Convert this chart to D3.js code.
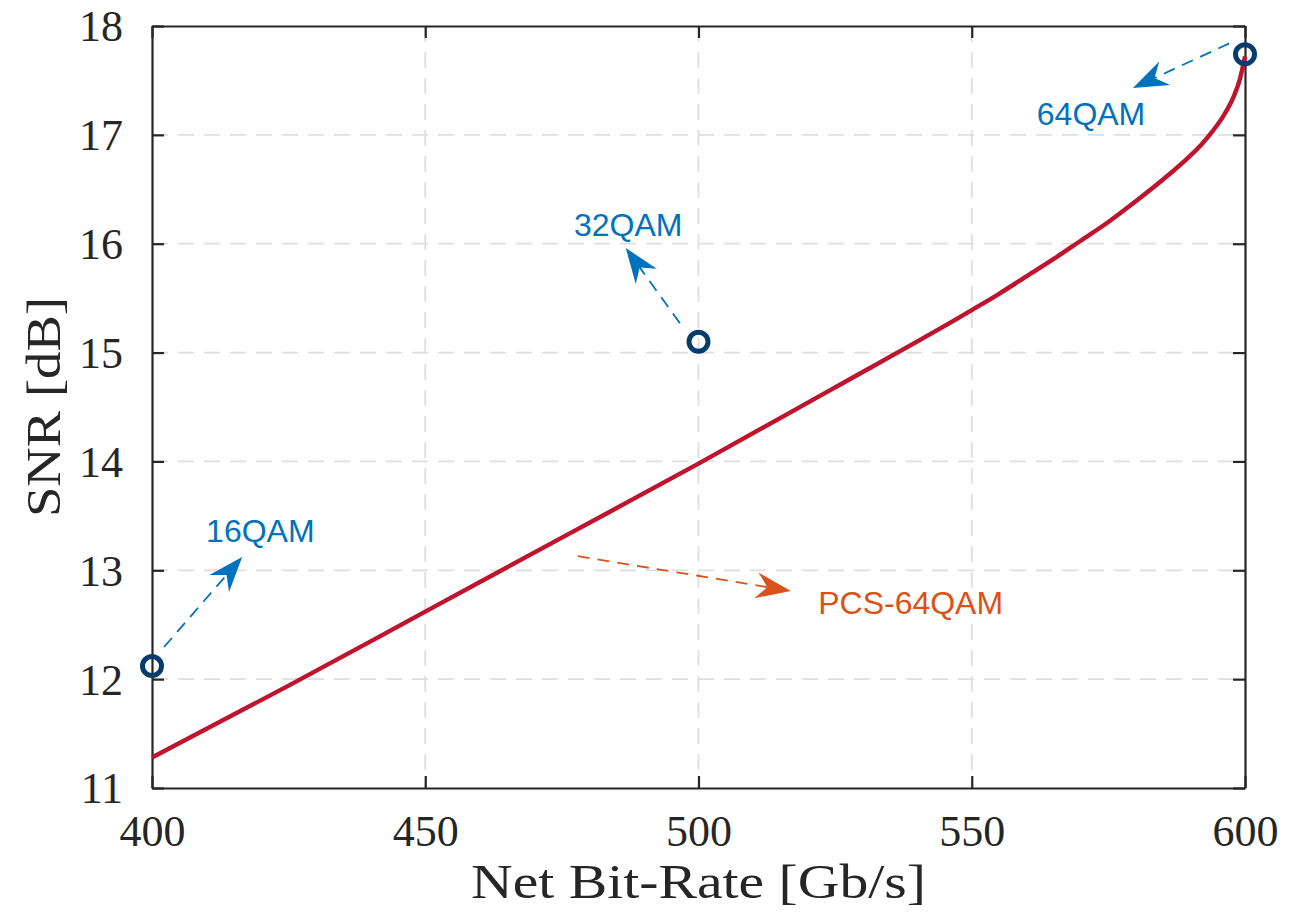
<!DOCTYPE html>
<html>
<head>
<meta charset="utf-8">
<script src="https://cdn.jsdelivr.net/npm/d3@7/dist/d3.min.js"></script>
<style>
  html, body { margin: 0; padding: 0; background: #fff; }
  svg { display: block; }
</style>
</head>
<body>
<svg id="chart" width="1304" height="920"></svg>
<script>
// ---- data ----
const bitRate = [400, 425, 450, 475, 500, 525, 550, 555, 560, 565, 570, 575, 580, 585, 590, 592, 594, 596, 598, 599, 600];
const snrPCS  = [11.28, 11.94, 12.62, 13.30, 13.98, 14.68, 15.39, 15.54, 15.70, 15.86, 16.03, 16.20, 16.39, 16.59, 16.81, 16.91, 17.03, 17.17, 17.36, 17.50, 17.72];

const qamNames = ["16QAM", "32QAM", "64QAM"];
const qamRate  = [400, 500, 600];
const qamSNR   = [12.12, 15.10, 17.74];

const xTicks = [400, 450, 500, 550, 600];
const yTicks = [11, 12, 13, 14, 15, 16, 17, 18];

const annLabels = ["16QAM", "32QAM", "64QAM", "PCS-64QAM"];
const annFromX  = [402.2, 496.6, 597.1, 477.9];
const annFromY  = [12.295, 15.27, 17.84, 13.13];
const annToX    = [416.5, 486.7, 579.5, 516.9];
const annToY    = [13.122, 15.96, 17.43, 12.81];
const annTextX  = [409.9, 477.2, 561.9, 521.9];
const annTextY  = [13.26, 16.07, 17.09, 12.60];
const annColor  = ["#0072BD", "#0072BD", "#0072BD", "#D95319"];

// ---- layout ----
const svg = d3.select("#chart");
const L = 152, R = 1245, T = 26, B = 788;
const x = d3.scaleLinear().domain([400, 600]).range([L, R]);
const y = d3.scaleLinear().domain([11, 18]).range([B, T]);

const axisColor = "#262626";
const serif = "'Liberation Serif', 'Times New Roman', serif";
const sans = "'Liberation Sans', Arial, Helvetica, sans-serif";

// grid
const grid = svg.append("g");
grid.selectAll("line.gx").data(xTicks.slice(1, -1)).enter().append("line")
  .attr("x1", d => x(d)).attr("x2", d => x(d)).attr("y1", T).attr("y2", B)
  .attr("stroke", "#dedede").attr("stroke-width", 1.8).attr("stroke-dasharray", "16,10");
grid.selectAll("line.gy").data(yTicks.slice(1, -1)).enter().append("line")
  .attr("x1", L).attr("x2", R).attr("y1", d => y(d)).attr("y2", d => y(d))
  .attr("stroke", "#dedede").attr("stroke-width", 1.8).attr("stroke-dasharray", "16,10");

// axes (inward ticks, mirrored)
const tickLen = 12;
const axB = svg.append("g").attr("transform", `translate(0,${B})`)
  .call(d3.axisBottom(x).tickValues(xTicks).tickSizeInner(-tickLen).tickSizeOuter(0).tickPadding(22).tickFormat(d3.format("d")));
const axT = svg.append("g").attr("transform", `translate(0,${T})`)
  .call(d3.axisTop(x).tickValues(xTicks).tickSizeInner(-tickLen).tickSizeOuter(0).tickFormat(""));
const axL = svg.append("g").attr("transform", `translate(${L},0)`)
  .call(d3.axisLeft(y).tickValues(yTicks).tickSizeInner(-tickLen).tickSizeOuter(0).tickPadding(29).tickFormat(d3.format("d")));
const axR = svg.append("g").attr("transform", `translate(${R},0)`)
  .call(d3.axisRight(y).tickValues(yTicks).tickSizeInner(-tickLen).tickSizeOuter(0).tickFormat(""));

[axB, axT, axL, axR].forEach(a => {
  a.select(".domain").attr("stroke", axisColor).attr("stroke-width", 2.2);
  a.selectAll(".tick line").attr("stroke", axisColor).attr("stroke-width", 2.2);
  a.selectAll(".tick text").attr("fill", axisColor).attr("font-family", serif).attr("font-size", 44);
});
axB.selectAll(".tick text").attr("dy", null).attr("y", 58).attr("dominant-baseline", "alphabetic");
axL.selectAll(".tick text").attr("dy", "0.34em");

// curve
svg.append("path")
  .datum(bitRate.map((r, i) => [r, snrPCS[i]]))
  .attr("fill", "none")
  .attr("stroke", "#C0132D")
  .attr("stroke-width", 4.4)
  .attr("stroke-linejoin", "round")
  .attr("d", d3.line().x(d => x(d[0])).y(d => y(d[1])).curve(d3.curveMonotoneX));

// markers
svg.selectAll("circle.qam").data(qamRate).enter().append("circle")
  .attr("cx", (d) => x(d)).attr("cy", (d, i) => y(qamSNR[i]))
  .attr("r", 9.5).attr("fill", "none").attr("stroke", "#053C6E").attr("stroke-width", 5);

// annotations
const HL = 35, HW = 26, notch = 0.68;
annLabels.forEach((lab, i) => {
  const x0 = x(annFromX[i]), y0 = y(annFromY[i]);
  const x1 = x(annToX[i]), y1 = y(annToY[i]);
  const ang = Math.atan2(y1 - y0, x1 - x0);
  const ex = x1 - Math.cos(ang) * HL * notch, ey = y1 - Math.sin(ang) * HL * notch;
  svg.append("line")
    .attr("x1", x0).attr("y1", y0).attr("x2", ex).attr("y2", ey)
    .attr("stroke", annColor[i]).attr("stroke-width", 1.8).attr("stroke-dasharray", "12,8");
  svg.append("path")
    .attr("d", `M0,0 L${-HL},${-HW / 2} L${-HL * notch},0 L${-HL},${HW / 2} Z`)
    .attr("transform", `translate(${x1},${y1}) rotate(${ang * 180 / Math.PI})`)
    .attr("fill", annColor[i]);
  svg.append("text")
    .attr("x", x(annTextX[i])).attr("y", y(annTextY[i]))
    .attr("font-family", sans).attr("font-size", 32)
    .attr("fill", annColor[i]).text(lab);
});

// axis labels
svg.append("text")
  .attr("x", (L + R) / 2).attr("y", 898)
  .attr("text-anchor", "middle")
  .attr("font-family", serif).attr("font-size", 48).attr("fill", axisColor)
  .attr("textLength", 455).attr("lengthAdjust", "spacingAndGlyphs")
  .text("Net Bit-Rate [Gb/s]");
svg.append("text")
  .attr("transform", `translate(60,${(T + B) / 2}) rotate(-90)`)
  .attr("text-anchor", "middle")
  .attr("font-family", serif).attr("font-size", 48).attr("fill", axisColor)
  .attr("textLength", 220).attr("lengthAdjust", "spacingAndGlyphs")
  .text("SNR [dB]");
</script>
</body>
</html>
